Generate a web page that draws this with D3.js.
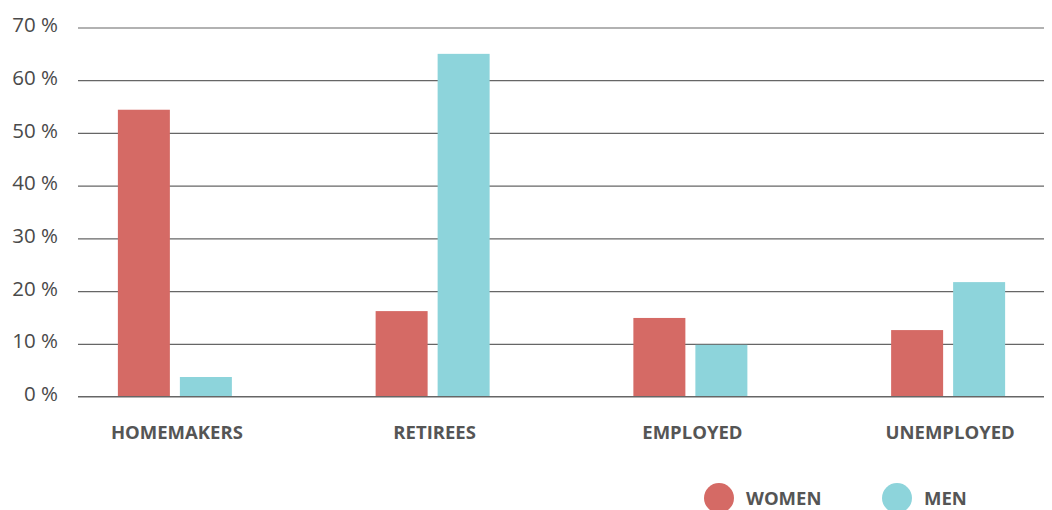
<!DOCTYPE html>
<html>
<head>
<meta charset="utf-8">
<script src="https://cdn.jsdelivr.net/npm/d3@7"></script>
<style>
  body { margin: 0; background: #fff; }
  text { font-family: "Open Sans", sans-serif; }
</style>
</head>
<body>
<div id="chart"></div>
<script>
var categories = ["HOMEMAKERS", "RETIREES", "EMPLOYED", "UNEMPLOYED"];
var seriesNames = ["WOMEN", "MEN"];
var women = [54.4, 16.2, 14.9, 12.6];
var men = [3.7, 65.0, 9.8, 21.7];
var yTicks = [0, 10, 20, 30, 40, 50, 60, 70];
var colors = ["#d56a65", "#8dd4db"];

var svgWidth = 1052;
var svgHeight = 510;

var svg = d3.select("#chart")
  .append("svg")
  .attr("width", svgWidth)
  .attr("height", svgHeight);

var yScale = d3.scaleLinear()
  .domain([0, 70])
  .range([396.5, 27.5]);

var xScale = d3.scaleBand()
  .domain(categories)
  .range([46, 1077]);

var xInner = d3.scaleBand()
  .domain(seriesNames)
  .range([0, 114])
  .paddingInner(10 / 62);

// grid lines + y labels
var yAxis = d3.axisLeft(yScale)
  .tickValues(yTicks)
  .tickSize(-966)
  .tickFormat(d => d + " %");

var yAxisG = svg.append("g")
  .attr("transform", "translate(78,0)")
  .call(yAxis);

yAxisG.select(".domain").remove();
yAxisG.selectAll(".tick line")
  .attr("stroke", "#666")
  .attr("stroke-width", 1.2);
yAxisG.selectAll(".tick text")
  .attr("x", -20)
  .attr("dy", "0.2em")
  .attr("fill", "#4a4a4a")
  .style("font-size", "20.5px")
  .style("font-family", "'Open Sans', sans-serif");

// bars
var data = categories.map(function(c, i) {
  return { cat: c, values: [women[i], men[i]] };
});

var groups = svg.append("g")
  .selectAll("g")
  .data(data)
  .enter()
  .append("g")
  .attr("transform", d => `translate(${xScale(d.cat) + xScale.bandwidth() / 2 - 57}, 0)`);

groups.selectAll("rect")
  .data(d => d.values.map((v, j) => ({ name: seriesNames[j], value: v, j: j })))
  .enter()
  .append("rect")
  .attr("x", d => xInner(d.name))
  .attr("width", xInner.bandwidth())
  .attr("y", d => yScale(d.value))
  .attr("height", d => yScale(0) - yScale(d.value))
  .attr("fill", d => colors[d.j]);

// baseline on top
svg.append("line")
  .attr("x1", 78)
  .attr("x2", 1044)
  .attr("y1", yScale(0))
  .attr("y2", yScale(0))
  .attr("stroke", "#666")
  .attr("stroke-width", 1.2);

// x labels
var xAxis = d3.axisBottom(xScale).tickSize(0).tickPadding(0);
var xAxisG = svg.append("g")
  .attr("transform", "translate(2,426)")
  .call(xAxis);
xAxisG.select(".domain").remove();
xAxisG.selectAll(".tick text")
  .attr("fill", "#555")
  .style("font-size", "18.5px")
  .style("font-weight", "bold")
  .style("font-family", "'Open Sans', sans-serif");

// legend
var legendX = [719, 897];
var legend = svg.append("g")
  .selectAll("g")
  .data(seriesNames)
  .enter()
  .append("g")
  .attr("transform", (d, i) => `translate(${legendX[i]}, 498)`);

legend.append("circle")
  .attr("r", 15)
  .attr("fill", (d, i) => colors[i]);

legend.append("text")
  .attr("x", 27)
  .attr("y", 7)
  .attr("fill", "#555")
  .style("font-size", "18.5px")
  .style("font-weight", "bold")
  .text(d => d);
</script>
</body>
</html>
